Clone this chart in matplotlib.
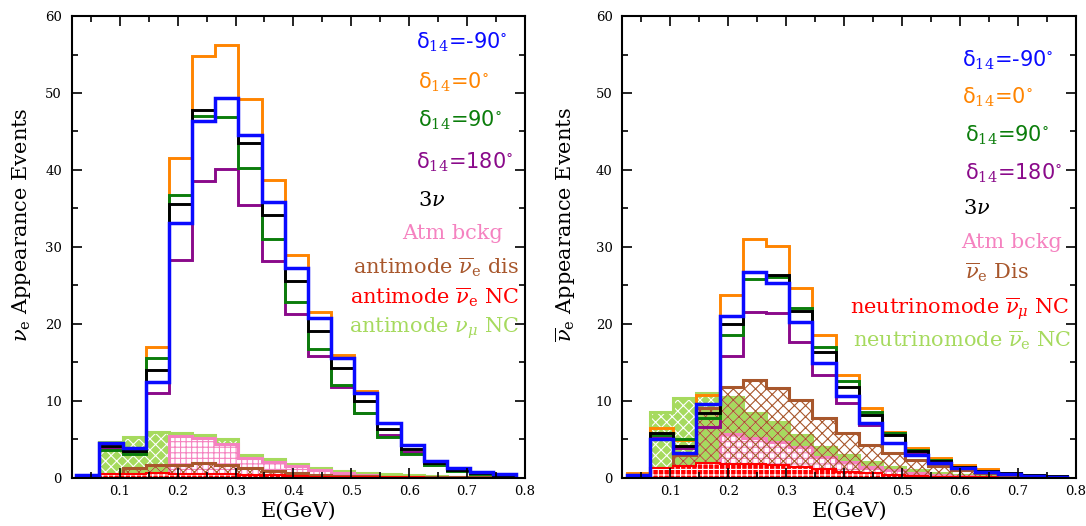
import numpy as np
import matplotlib
matplotlib.use("Agg")
import matplotlib.pyplot as plt
from matplotlib.ticker import MultipleLocator

# bin edges (GeV), 19 bins of 0.04
edges = np.round(0.025 + 0.04 * np.arange(20), 3)

# ---- left panel: nu_e appearance ----
nu_m90 = [0.35, 4.5, 3.8, 12.5, 33.1, 46.3, 49.4, 44.5, 35.8, 27.3, 20.7, 15.6, 11.0, 7.1, 4.2, 2.2, 1.2, 0.7, 0.5]
nu_0 = [0.35, 4.3, 3.6, 17.0, 41.5, 54.8, 56.2, 49.2, 38.7, 28.9, 21.6, 16.0, 11.3, 7.1, 4.2, 2.1, 1.1, 0.7, 0.5]
nu_90 = [0.3, 3.6, 3.1, 15.5, 36.7, 47.0, 46.9, 40.2, 31.0, 22.8, 16.7, 12.1, 8.4, 5.3, 3.1, 1.6, 0.9, 0.5, 0.3]
nu_180 = [0.3, 3.8, 3.2, 11.0, 28.3, 38.5, 40.1, 35.5, 28.2, 21.3, 15.8, 11.8, 8.4, 5.5, 3.4, 1.9, 1.0, 0.6, 0.35]
nu_3nu = [0.3, 4.1, 3.5, 14.0, 35.6, 47.8, 49.3, 43.5, 34.2, 25.6, 19.1, 14.2, 10.0, 6.3, 3.7, 1.9, 1.0, 0.6, 0.4]
nu_atm = [0, 0, 0, 0, 5.4, 5.1, 4.4, 2.6, 2.0, 1.5, 1.0, 0.6, 0.3, 0.15, 0.1, 0.05, 0.03, 0.02, 0.01]
nu_dis = [0, 0.3, 1.3, 1.7, 1.7, 1.9, 1.6, 1.2, 0.9, 0.6, 0.35, 0.25, 0.2, 0.15, 0.1, 0.08, 0.05, 0.03, 0.02]
nu_nc = [0, 0.5, 0.5, 0.6, 0.5, 0.5, 0.45, 0.4, 0.3, 0.2, 0.15, 0.1, 0.08, 0.05, 0.03, 0.02, 0.01, 0.01, 0.0]
nu_numu_nc = [0, 4.6, 5.3, 6.0, 5.8, 5.6, 5.0, 3.0, 2.4, 1.8, 1.3, 0.9, 0.6, 0.45, 0.3, 0.2, 0.1, 0.05, 0.03]

# ---- right panel: anti-nu_e appearance ----
an_m90 = [0.4, 5.0, 3.2, 9.6, 21.05, 26.7, 25.3, 20.3, 14.95, 10.6, 7.15, 4.55, 3.0, 1.85, 1.2, 0.7, 0.45, 0.25, 0.15]
an_0 = [0.55, 6.4, 4.9, 10.8, 23.7, 31.0, 30.1, 24.7, 18.6, 13.3, 9.1, 6.0, 3.8, 2.5, 1.65, 1.1, 0.65, 0.4, 0.2]
an_90 = [0.4, 5.6, 5.0, 7.8, 18.5, 25.8, 26.1, 22.1, 17.0, 12.6, 8.6, 5.8, 3.6, 2.3, 1.4, 0.85, 0.55, 0.35, 0.2]
an_180 = [0.35, 5.4, 3.9, 6.6, 15.8, 21.5, 21.4, 17.7, 13.4, 9.75, 6.85, 4.55, 3.15, 2.1, 1.4, 0.85, 0.5, 0.3, 0.2]
an_3nu = [0.4, 5.85, 4.15, 8.45, 20.0, 26.7, 26.3, 21.7, 16.4, 11.8, 8.15, 5.5, 3.5, 2.2, 1.4, 0.85, 0.55, 0.35, 0.2]
an_atm = [0, 0, 0, 1.8, 5.7, 5.1, 4.7, 4.0, 2.7, 2.1, 1.4, 1.0, 0.6, 0.35, 0.2, 0.1, 0.05, 0.03, 0.02]
an_dis = [0, 1.2, 2.9, 9.0, 11.8, 12.7, 11.7, 10.1, 7.8, 5.85, 4.3, 3.25, 2.3, 1.5, 1.0, 0.65, 0.4, 0.25, 0.15]
an_numu_nc = [0, 1.2, 1.55, 1.85, 1.8, 1.8, 1.65, 1.4, 1.1, 0.8, 0.55, 0.35, 0.2, 0.1, 0.05, 0.03, 0.02, 0.01, 0.0]
an_nue_nc = [0, 8.5, 10.3, 11.0, 10.5, 8.4, 7.3, 5.55, 4.0, 2.95, 2.1, 1.4, 1.0, 0.65, 0.4, 0.25, 0.15, 0.1, 0.05]

C_BLUE = '#0a0aff'
C_ORANGE = '#ff8400'
C_GREEN = '#0b7d0b'
C_PURPLE = '#8a0a8a'
C_PINK = '#f582c0'
C_BROWN = '#a8572c'
C_RED = '#ff0000'
C_LGREEN = '#a6da5e'

plt.rcParams['font.family'] = 'DejaVu Serif'
plt.rcParams['mathtext.fontset'] = 'dejavuserif'
plt.rcParams['hatch.linewidth'] = 0.8


def fondo(ax, vals, color, hatch, face, hcolor, lw=2.2):
    ax.stairs(vals, edges, fill=True, facecolor=face, edgecolor=hcolor, hatch=hatch, linewidth=0)
    ax.stairs(vals, edges, color=color, linewidth=lw)


def panel(ax, m90, d0, d90, d180, tres, atm, dis, nc_a, nc_b, textos, ylabel, ylx):
    # fondos
    fondo(ax, nc_b, C_LGREEN, 'xxx', C_LGREEN, 'white')
    fondo(ax, atm, C_PINK, '+++', 'white', C_PINK)
    fondo(ax, dis, C_BROWN, 'xxx', 'none', C_BROWN)
    fondo(ax, nc_a, C_RED, '+++', C_RED, 'white', lw=1.5)
    # señal
    ax.stairs(d180, edges, color=C_PURPLE, linewidth=2.1)
    ax.stairs(d0, edges, color=C_ORANGE, linewidth=2.1)
    ax.stairs(d90, edges, color=C_GREEN, linewidth=2.1)
    ax.stairs(tres, edges, color='black', linewidth=2.1)
    ax.stairs(m90, edges, color=C_BLUE, linewidth=2.5)

    ax.set_xlim(0.017, 0.8)
    ax.set_ylim(0, 60)
    ax.xaxis.set_minor_locator(MultipleLocator(0.05))
    ax.yaxis.set_major_locator(MultipleLocator(10))
    ax.yaxis.set_minor_locator(MultipleLocator(5))
    ax.set_xticks(np.arange(0.1, 0.81, 0.1))
    ax.set_xticklabels(['0.1', '0.2', '0.3', '0.4', '0.5', '0.6', '0.7', '0.8'])
    ax.tick_params(which='both', direction='in', top=True, right=True, width=1.2)
    ax.tick_params(which='major', length=7, labelsize=9.5, pad=7)
    ax.tick_params(axis='x', which='major', pad=5)
    ax.tick_params(which='minor', length=4)
    for s in ax.spines.values():
        s.set_linewidth(1.5)

    ax.set_xlabel('E(GeV)', fontsize=15)
    ax.xaxis.set_label_coords(0.5, -0.052)
    ax.set_ylabel(ylabel, fontsize=15)
    ax.yaxis.set_label_coords(ylx, 0.549)

    for t, x, y, c, ha, sans in textos:
        if sans:
            ax.text(x, y, t, color=c, ha=ha, va='center', transform=ax.transAxes,
                    fontsize=15, family='DejaVu Sans', math_fontfamily='dejavuserif')
        else:
            ax.text(x, y, t, color=c, ha=ha, va='center', transform=ax.transAxes, fontsize=15)


fig = plt.figure(figsize=(10.86, 5.26), dpi=100)
ax1 = fig.add_axes([0.066, 0.0918, 0.4174, 0.8777])
ax2 = fig.add_axes([0.573, 0.0918, 0.4178, 0.8777])

textos1 = [
    ('δ$_{14}$=-90$^{\\circ}$', 0.760, 0.944, C_BLUE, 'left', True),
    ('δ$_{14}$=0$^{\\circ}$', 0.764, 0.857, C_ORANGE, 'left', True),
    ('δ$_{14}$=90$^{\\circ}$', 0.764, 0.774, C_GREEN, 'left', True),
    ('δ$_{14}$=180$^{\\circ}$', 0.760, 0.683, C_PURPLE, 'left', True),
    (r'3$\nu$', 0.764, 0.601, 'black', 'left', False),
    ('Atm bckg', 0.729, 0.530, C_PINK, 'left', False),
    (r'antimode $\overline{\nu}_{\rm e}$ dis', 0.987, 0.456, C_BROWN, 'right', False),
    (r'antimode $\overline{\nu}_{\rm e}$ NC', 0.987, 0.391, C_RED, 'right', False),
    (r'antimode $\nu_{\mu}$ NC', 0.987, 0.324, C_LGREEN, 'right', False),
]
textos2 = [
    ('δ$_{14}$=-90$^{\\circ}$', 0.749, 0.904, C_BLUE, 'left', True),
    ('δ$_{14}$=0$^{\\circ}$', 0.749, 0.824, C_ORANGE, 'left', True),
    ('δ$_{14}$=90$^{\\circ}$', 0.755, 0.742, C_GREEN, 'left', True),
    ('δ$_{14}$=180$^{\\circ}$', 0.755, 0.660, C_PURPLE, 'left', True),
    (r'3$\nu$', 0.751, 0.584, 'black', 'left', False),
    ('Atm bckg', 0.746, 0.510, C_PINK, 'left', False),
    (r'$\overline{\nu}_{\rm e}$ Dis', 0.755, 0.445, C_BROWN, 'left', False),
    (r'neutrinomode $\overline{\nu}_{\mu}$ NC', 0.986, 0.367, C_RED, 'right', False),
    (r'neutrinomode $\overline{\nu}_{\rm e}$ NC', 0.990, 0.298, C_LGREEN, 'right', False),
]

panel(ax1, nu_m90, nu_0, nu_90, nu_180, nu_3nu, nu_atm, nu_dis, nu_nc, nu_numu_nc,
      textos1, r'$\nu_{\rm e}$ Appearance Events', -0.085)
panel(ax2, an_m90, an_0, an_90, an_180, an_3nu, an_atm, an_dis, an_numu_nc, an_nue_nc,
      textos2, r'$\overline{\nu}_{\rm e}$ Appearance Events', -0.098)

fig.savefig('out.png', dpi=100)
